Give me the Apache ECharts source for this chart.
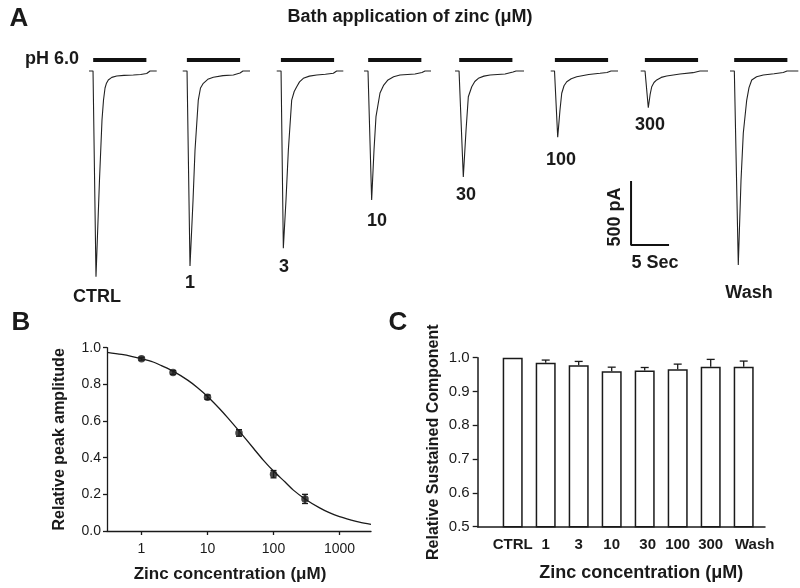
<!DOCTYPE html>
<html>
<head>
<meta charset="utf-8">
<script src="https://cdn.jsdelivr.net/npm/echarts@6/dist/echarts.min.js"></script>
<style>html,body{margin:0;padding:0;background:#fff}#c{width:800px;height:588px}</style>
</head>
<body>
<div id="c"></div>
<script>
// ---------- Panel A: current traces (time s, current pA) ----------
const traceLabels = ['CTRL', '1', '3', '10', '30', '100', '300', 'Wash'];
const traceStart = [0, 12.33, 24.70, 36.18, 48.16, 60.75, 72.59, 84.34];
const traceCTRL = [[0,0],[0.53,0],[0.92,-1607],[1.38,-852],[1.71,-383],[1.91,-227],[2.11,-133],[2.3,-95],[2.54,-70],[3.0,-50],[3.64,-39],[4.6,-34],[5.83,-31],[6.8,-27],[7.59,-20],[8.03,0],[8.91,0]];
const trace1 = [[0,0],[0.57,0],[0.96,-1523],[1.36,-1008],[1.62,-617],[2.05,-227],[2.34,-133],[2.71,-96],[3.3,-65],[4.03,-49],[5.3,-36],[6.66,-31],[7.54,-16],[7.93,0],[8.86,0]];
const trace3 = [[0,0],[0.57,0],[0.87,-1385],[1.22,-1008],[1.53,-617],[1.97,-227],[2.3,-160],[2.63,-123],[3.0,-85],[3.50,-57],[4.3,-40],[5.26,-31],[6.4,-25],[7.45,-18],[7.89,0],[8.76,0]];
const trace10 = [[0,0],[0.53,0],[1.01,-1008],[1.32,-617],[1.58,-357],[2.11,-172],[2.6,-110],[3.16,-70],[3.9,-45],[4.74,-31],[6.71,-23],[7.63,-12],[8.03,0],[8.82,0]];
const trace30 = [[0,0],[0.53,0],[1.09,-828],[1.45,-461],[1.75,-201],[2.20,-123],[2.6,-82],[3.07,-57],[3.8,-40],[4.61,-31],[6.58,-23],[7.63,-8],[8.03,0],[9.08,0]];
const trace100 = [[0,0],[0.50,0],[0.92,-518],[1.22,-305],[1.45,-174],[1.75,-115],[2.11,-84],[2.7,-60],[3.42,-45],[5.0,-27],[6.49,-18],[7.41,-12],[7.93,0],[8.86,0]];
const trace300 = [[0,0],[0.57,0],[1.00,-287],[1.25,-180],[1.45,-123],[1.75,-90],[2.11,-70],[2.7,-50],[3.42,-39],[5.17,-23],[6.88,-13],[7.80,0],[8.86,0]];
const traceWash = [[0,0],[0.57,0],[1.09,-1516],[1.45,-852],[1.75,-484],[2.20,-227],[2.5,-130],[2.86,-70],[3.5,-45],[4.38,-31],[5.8,-22],[7.01,-12],[7.50,0],[8.99,0]];
const traces = [traceCTRL, trace1, trace3, trace10, trace30, trace100, trace300, traceWash];
const phOn = 0.55, phOff = 7.55;          // pH 6.0 application window (s)
const scaleBarTime = 5, scaleBarCurrent = 500; // 5 Sec, 500 pA

// ---------- Panel B: dose response ----------
const zincConc = [1, 3, 10, 30, 100, 300];
const peakAmp = [0.94, 0.865, 0.73, 0.535, 0.31, 0.175];
const peakSem = [0.008, 0.01, 0.012, 0.018, 0.02, 0.025];
const fitConc = [0.3, 0.5, 0.7, 1, 1.5, 2, 3, 5, 7, 10, 15, 20, 30, 50, 70, 100, 150, 200, 300, 500, 700, 1000, 1500, 2000, 3000];
const fitAmp  = [0.975, 0.963, 0.953, 0.94, 0.922, 0.902, 0.872, 0.823, 0.783, 0.734, 0.670, 0.620, 0.546, 0.450, 0.387, 0.327, 0.267, 0.223, 0.175, 0.126, 0.100, 0.079, 0.060, 0.048, 0.036];
const bTicks = [1, 10, 100, 1000];

// ---------- Panel C: sustained component ----------
const cCategories = ['CTRL', '1', '3', '10', '30', '100', '300', 'Wash'];
const sustained = [1.0, 0.985, 0.978, 0.96, 0.962, 0.966, 0.973, 0.973];
const sustainedSem = [0, 0.008, 0.011, 0.012, 0.009, 0.015, 0.022, 0.017];

const FONT = '"Liberation Sans", Arial, Helvetica, sans-serif';
const INK = '#1a1a1a';

const chart = echarts.init(document.getElementById('c'), null, {renderer: 'canvas'});

const series = [];
traces.forEach((tr, i) => {
  series.push({
    type: 'line', xAxisIndex: 0, yAxisIndex: 0, symbol: 'none', silent: true,
    lineStyle: {color: '#222', width: 1.1},
    data: tr.map(p => [p[0] + traceStart[i], p[1]])
  });
  series.push({
    type: 'line', xAxisIndex: 0, yAxisIndex: 0, symbol: 'none', silent: true,
    lineStyle: {color: '#111', width: 4, cap: 'butt'},
    data: [[traceStart[i] + phOn, 86], [traceStart[i] + phOff, 86]]
  });
});
const sbT = 71.32, sbI = -1359;
series.push({
  type: 'line', xAxisIndex: 0, yAxisIndex: 0, symbol: 'none', silent: true,
  lineStyle: {color: '#111', width: 2},
  data: [[sbT, sbI + scaleBarCurrent], [sbT, sbI], [sbT + scaleBarTime, sbI]]
});

function errRender(upOnly, cap, lw) {
  return function (params, api) {
    const x = api.value(0), y = api.value(1), e = api.value(2);
    if (!e) return null;
    const top = api.coord([x, y + e]);
    const bot = api.coord([x, upOnly ? y : y - e]);
    const st = {stroke: INK, lineWidth: lw};
    const ch = [
      {type: 'line', shape: {x1: top[0], y1: top[1], x2: bot[0], y2: bot[1]}, style: st},
      {type: 'line', shape: {x1: top[0] - cap, y1: top[1], x2: top[0] + cap, y2: top[1]}, style: st}
    ];
    if (!upOnly) ch.push({type: 'line', shape: {x1: bot[0] - cap, y1: bot[1], x2: bot[0] + cap, y2: bot[1]}, style: st});
    return {type: 'group', children: ch};
  };
}

series.push({
  type: 'line', xAxisIndex: 1, yAxisIndex: 1, symbol: 'none', smooth: 0.3, silent: true,
  lineStyle: {color: INK, width: 1.3},
  data: fitConc.map((c, i) => [c, fitAmp[i]])
});
series.push({
  type: 'custom', xAxisIndex: 1, yAxisIndex: 1, silent: true,
  renderItem: errRender(false, 3, 1.3),
  data: zincConc.map((c, i) => [c, peakAmp[i], peakSem[i]]), z: 3
});
series.push({
  type: 'scatter', xAxisIndex: 1, yAxisIndex: 1, symbol: 'circle', symbolSize: 7.5, silent: true,
  itemStyle: {color: INK},
  data: zincConc.map((c, i) => [c, peakAmp[i]]), z: 4
});

series.push({
  type: 'bar', xAxisIndex: 3, yAxisIndex: 3, barWidth: 20, silent: true,
  itemStyle: {color: '#fff', borderColor: INK, borderWidth: 1.5},
  data: sustained
});
series.push({
  type: 'custom', xAxisIndex: 3, yAxisIndex: 3, silent: true,
  renderItem: errRender(true, 4, 1.3),
  data: cCategories.map((c, i) => [i, sustained[i], sustainedSem[i]]), z: 5
});

const txt = (text, x, y, size, weight, extra) => Object.assign({
  type: 'text', x: x, y: y, silent: true,
  style: {text: text, font: (weight || 'bold') + ' ' + size + 'px ' + FONT, fill: INK, align: 'center', verticalAlign: 'middle'}
}, extra || {});

const labelPos = [[97, 297], [190, 283], [284, 267], [377, 221], [466, 195], [561, 160], [650, 125], [749, 293]];

const graphics = [
  txt('A', 19, 19, 26),
  txt('B', 21, 323, 26),
  txt('C', 398, 323, 26),
  txt('Bath application of zinc (μM)', 410, 17, 18),
  txt('pH 6.0', 52, 59, 18),
  txt('5 Sec', 655, 263, 18),
  txt('500 pA', 615, 217, 18, 'bold', {rotation: Math.PI / 2})
].concat(traceLabels.map((l, i) => txt(l, labelPos[i][0], labelPos[i][1], 18)));

const axisTextB = {color: INK, fontFamily: FONT, fontSize: 14};
const catRich = {color: INK, fontFamily: FONT, fontSize: 15, fontWeight: 'bold'};

chart.setOption({
  animation: false,
  backgroundColor: '#fff',
  grid: [
    {left: 0, right: 0, top: 51.8, height: 275.2},
    {left: 107, right: 429, top: 347.7, bottom: 57},
    {left: 477.7, right: 35, top: 357.7, bottom: 61.3},
    {left: 496.2, right: 39.8, top: 357.7, bottom: 61.3}
  ],
  xAxis: [
    {gridIndex: 0, type: 'value', min: -11.71, max: 93.55, show: false},
    {gridIndex: 1, type: 'log', logBase: 10, min: 0.3, max: 3000,
     axisLine: {lineStyle: {color: INK, width: 1.3}},
     axisTick: {show: true, length: 4, lineStyle: {color: INK, width: 1.3}, customValues: bTicks},
     axisLabel: Object.assign({margin: 11, customValues: bTicks, formatter: v => String(v)}, axisTextB),
     splitLine: {show: false},
     name: 'Zinc concentration (μM)', nameLocation: 'middle', nameGap: 35,
     nameTextStyle: {color: INK, fontFamily: FONT, fontSize: 17, fontWeight: 'bold', padding: [0, 18, 0, 0]}},
    {gridIndex: 2, type: 'value', min: 0, max: 1,
     axisLine: {lineStyle: {color: INK, width: 1.5}}, axisTick: {show: false}, axisLabel: {show: false}, splitLine: {show: false},
     name: 'Zinc concentration (μM)', nameLocation: 'middle', nameGap: 37,
     nameTextStyle: {color: INK, fontFamily: FONT, fontSize: 18, fontWeight: 'bold', padding: [0, 0, 0, 40]}},
    {gridIndex: 3, type: 'category', data: cCategories, boundaryGap: true,
     axisLine: {show: false}, axisTick: {show: false},
     axisLabel: {interval: 0, margin: 11, color: INK, fontFamily: FONT, fontSize: 15, fontWeight: 'bold',
       formatter: v => v === 'Wash' ? '{w|' + v + '}' : (v === '30' ? '{t|' + v + '}' : '{n|' + v + '}'),
       rich: {
         n: catRich,
         t: Object.assign({padding: [0, 0, 0, 6]}, catRich),
         w: Object.assign({padding: [0, 0, 0, 22]}, catRich)
       }}}
  ],
  yAxis: [
    {gridIndex: 0, type: 'value', min: -2000, max: 150, show: false},
    {gridIndex: 1, type: 'value', min: 0, max: 1, interval: 0.2,
     axisLine: {show: true, lineStyle: {color: INK, width: 1.3}},
     axisTick: {show: true, length: 4, lineStyle: {color: INK, width: 1.3}},
     axisLabel: Object.assign({margin: 6, formatter: v => v.toFixed(1)}, axisTextB),
     splitLine: {show: false},
     name: 'Relative peak amplitude', nameLocation: 'middle', nameGap: 39, nameRotate: 90,
     nameTextStyle: {color: INK, fontFamily: FONT, fontSize: 16, fontWeight: 'bold'}},
    {gridIndex: 2, type: 'value', min: 0.5, max: 1.0, interval: 0.1,
     axisLine: {show: true, lineStyle: {color: INK, width: 1.5}},
     axisTick: {show: true, length: 5, lineStyle: {color: INK, width: 1.3}},
     axisLabel: {margin: 8, formatter: v => v.toFixed(1), color: INK, fontFamily: FONT, fontSize: 15},
     splitLine: {show: false},
     name: 'Relative Sustained Component', nameLocation: 'middle', nameGap: 36, nameRotate: 90,
     nameTextStyle: {color: INK, fontFamily: FONT, fontSize: 16, fontWeight: 'bold'}},
    {gridIndex: 3, type: 'value', min: 0.5, max: 1.0, interval: 0.1, show: false}
  ],
  series: series,
  graphic: graphics
});
</script>
</body>
</html>
